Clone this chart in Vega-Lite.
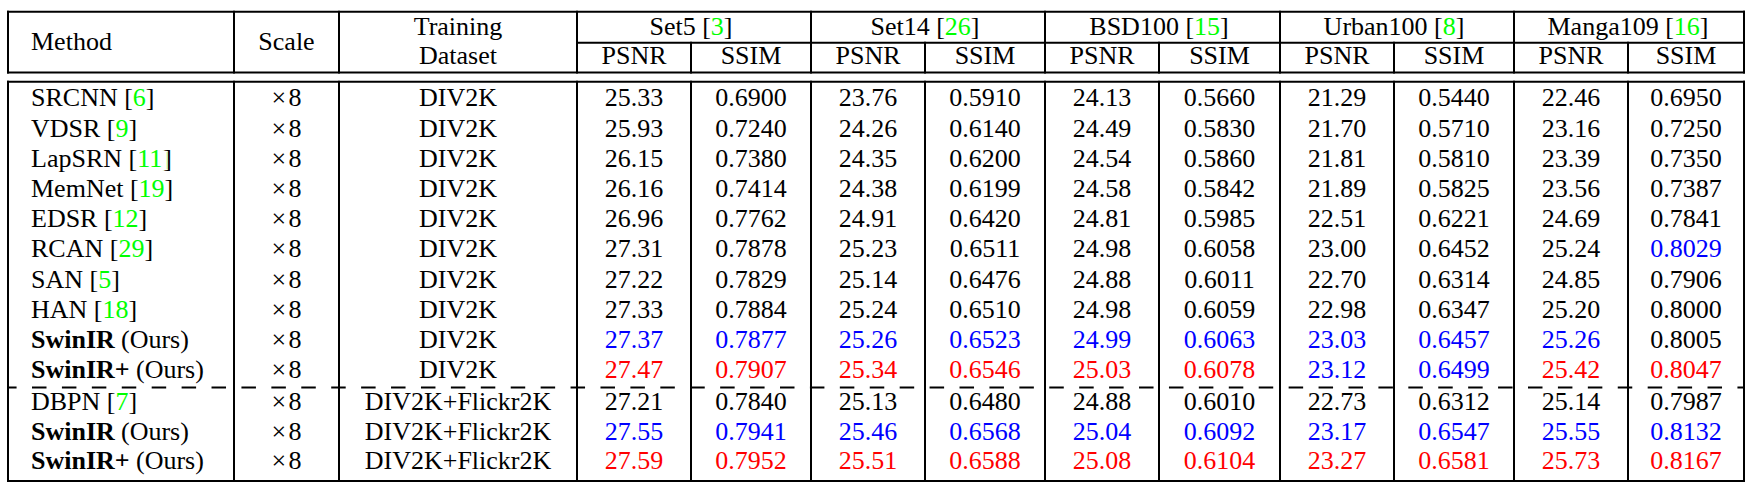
{
"$schema": "https://vega.github.io/schema/vega-lite/v6.json",
"width": 1756, "height": 490, "padding": 0, "autosize": {"type": "none"},
"background": "white",
"config": {"view": {"stroke": null}},
"datasets": {
"hlines": [
{"row": -1.5, "col": -0.5, "col2": 12.5},
{"row": -0.75, "col": 2.5, "col2": 12.5},
{"row": 0.25, "col": -0.5, "col2": 12.5},
{"row": 0.5, "col": -0.5, "col2": 12.5},
{"row": 13.5, "col": -0.5, "col2": 12.5}
],
"dash": [{"row": 10.5, "col": -0.5, "col2": 12.5}],
"vlines": [
{"col": -0.5, "row": -1.5, "row2": 0.25},
{"col": 0.5, "row": -1.5, "row2": 0.25},
{"col": 1.5, "row": -1.5, "row2": 0.25},
{"col": 2.5, "row": -1.5, "row2": 0.25},
{"col": 4.5, "row": -1.5, "row2": 0.25},
{"col": 6.5, "row": -1.5, "row2": 0.25},
{"col": 8.5, "row": -1.5, "row2": 0.25},
{"col": 10.5, "row": -1.5, "row2": 0.25},
{"col": 12.5, "row": -1.5, "row2": 0.25},
{"col": 3.5, "row": -0.75, "row2": 0.25},
{"col": 5.5, "row": -0.75, "row2": 0.25},
{"col": 7.5, "row": -0.75, "row2": 0.25},
{"col": 9.5, "row": -0.75, "row2": 0.25},
{"col": 11.5, "row": -0.75, "row2": 0.25},
{"col": -0.5, "row": 0.5, "row2": 13.5},
{"col": 0.5, "row": 0.5, "row2": 13.5},
{"col": 1.5, "row": 0.5, "row2": 13.5},
{"col": 2.5, "row": 0.5, "row2": 13.5},
{"col": 3.5, "row": 0.5, "row2": 13.5},
{"col": 4.5, "row": 0.5, "row2": 13.5},
{"col": 5.5, "row": 0.5, "row2": 13.5},
{"col": 6.5, "row": 0.5, "row2": 13.5},
{"col": 7.5, "row": 0.5, "row2": 13.5},
{"col": 8.5, "row": 0.5, "row2": 13.5},
{"col": 9.5, "row": 0.5, "row2": 13.5},
{"col": 10.5, "row": 0.5, "row2": 13.5},
{"col": 11.5, "row": 0.5, "row2": 13.5},
{"col": 12.5, "row": 0.5, "row2": 13.5}
],
"heads": [
{"col": 1, "row": -0.5, "name": "Scale"},
{"col": 2, "row": -1, "name": "Training"},
{"col": 2, "row": 0, "name": "Dataset"},
{"col": 3.5, "row": -1, "name": "Set5", "cite": "3"},
{"col": 5.5, "row": -1, "name": "Set14", "cite": "26"},
{"col": 7.5, "row": -1, "name": "BSD100", "cite": "15"},
{"col": 9.5, "row": -1, "name": "Urban100", "cite": "8"},
{"col": 11.5, "row": -1, "name": "Manga109", "cite": "16"},
{"col": 3, "row": 0, "name": "PSNR"}, {"col": 4, "row": 0, "name": "SSIM"},
{"col": 5, "row": 0, "name": "PSNR"}, {"col": 6, "row": 0, "name": "SSIM"},
{"col": 7, "row": 0, "name": "PSNR"}, {"col": 8, "row": 0, "name": "SSIM"},
{"col": 9, "row": 0, "name": "PSNR"}, {"col": 10, "row": 0, "name": "SSIM"},
{"col": 11, "row": 0, "name": "PSNR"}, {"col": 12, "row": 0, "name": "SSIM"}
],
"rows": [
{"row": 1, "name": "SRCNN", "cite": "6", "bold": false, "scale": "×\u200a8", "train": "DIV2K"},
{"row": 2, "name": "VDSR", "cite": "9", "bold": false, "scale": "×\u200a8", "train": "DIV2K"},
{"row": 3, "name": "LapSRN", "cite": "11", "bold": false, "scale": "×\u200a8", "train": "DIV2K"},
{"row": 4, "name": "MemNet", "cite": "19", "bold": false, "scale": "×\u200a8", "train": "DIV2K"},
{"row": 5, "name": "EDSR", "cite": "12", "bold": false, "scale": "×\u200a8", "train": "DIV2K"},
{"row": 6, "name": "RCAN", "cite": "29", "bold": false, "scale": "×\u200a8", "train": "DIV2K"},
{"row": 7, "name": "SAN", "cite": "5", "bold": false, "scale": "×\u200a8", "train": "DIV2K"},
{"row": 8, "name": "HAN", "cite": "18", "bold": false, "scale": "×\u200a8", "train": "DIV2K"},
{"row": 9, "name": "SwinIR", "note": "(Ours)", "bold": true, "scale": "×\u200a8", "train": "DIV2K"},
{"row": 10, "name": "SwinIR+", "note": "(Ours)", "bold": true, "scale": "×\u200a8", "train": "DIV2K"},
{"row": 11, "name": "DBPN", "cite": "7", "bold": false, "scale": "×\u200a8", "train": "DIV2K+Flickr2K"},
{"row": 12, "name": "SwinIR", "note": "(Ours)", "bold": true, "scale": "×\u200a8", "train": "DIV2K+Flickr2K"},
{"row": 13, "name": "SwinIR+", "note": "(Ours)", "bold": true, "scale": "×\u200a8", "train": "DIV2K+Flickr2K"}
],
"cells": [
{"row":1,"col":3,"v":"25.33","k":0},{"row":1,"col":4,"v":"0.6900","k":0},{"row":1,"col":5,"v":"23.76","k":0},{"row":1,"col":6,"v":"0.5910","k":0},{"row":1,"col":7,"v":"24.13","k":0},{"row":1,"col":8,"v":"0.5660","k":0},{"row":1,"col":9,"v":"21.29","k":0},{"row":1,"col":10,"v":"0.5440","k":0},{"row":1,"col":11,"v":"22.46","k":0},{"row":1,"col":12,"v":"0.6950","k":0},
{"row":2,"col":3,"v":"25.93","k":0},{"row":2,"col":4,"v":"0.7240","k":0},{"row":2,"col":5,"v":"24.26","k":0},{"row":2,"col":6,"v":"0.6140","k":0},{"row":2,"col":7,"v":"24.49","k":0},{"row":2,"col":8,"v":"0.5830","k":0},{"row":2,"col":9,"v":"21.70","k":0},{"row":2,"col":10,"v":"0.5710","k":0},{"row":2,"col":11,"v":"23.16","k":0},{"row":2,"col":12,"v":"0.7250","k":0},
{"row":3,"col":3,"v":"26.15","k":0},{"row":3,"col":4,"v":"0.7380","k":0},{"row":3,"col":5,"v":"24.35","k":0},{"row":3,"col":6,"v":"0.6200","k":0},{"row":3,"col":7,"v":"24.54","k":0},{"row":3,"col":8,"v":"0.5860","k":0},{"row":3,"col":9,"v":"21.81","k":0},{"row":3,"col":10,"v":"0.5810","k":0},{"row":3,"col":11,"v":"23.39","k":0},{"row":3,"col":12,"v":"0.7350","k":0},
{"row":4,"col":3,"v":"26.16","k":0},{"row":4,"col":4,"v":"0.7414","k":0},{"row":4,"col":5,"v":"24.38","k":0},{"row":4,"col":6,"v":"0.6199","k":0},{"row":4,"col":7,"v":"24.58","k":0},{"row":4,"col":8,"v":"0.5842","k":0},{"row":4,"col":9,"v":"21.89","k":0},{"row":4,"col":10,"v":"0.5825","k":0},{"row":4,"col":11,"v":"23.56","k":0},{"row":4,"col":12,"v":"0.7387","k":0},
{"row":5,"col":3,"v":"26.96","k":0},{"row":5,"col":4,"v":"0.7762","k":0},{"row":5,"col":5,"v":"24.91","k":0},{"row":5,"col":6,"v":"0.6420","k":0},{"row":5,"col":7,"v":"24.81","k":0},{"row":5,"col":8,"v":"0.5985","k":0},{"row":5,"col":9,"v":"22.51","k":0},{"row":5,"col":10,"v":"0.6221","k":0},{"row":5,"col":11,"v":"24.69","k":0},{"row":5,"col":12,"v":"0.7841","k":0},
{"row":6,"col":3,"v":"27.31","k":0},{"row":6,"col":4,"v":"0.7878","k":0},{"row":6,"col":5,"v":"25.23","k":0},{"row":6,"col":6,"v":"0.6511","k":0},{"row":6,"col":7,"v":"24.98","k":0},{"row":6,"col":8,"v":"0.6058","k":0},{"row":6,"col":9,"v":"23.00","k":0},{"row":6,"col":10,"v":"0.6452","k":0},{"row":6,"col":11,"v":"25.24","k":0},{"row":6,"col":12,"v":"0.8029","k":2},
{"row":7,"col":3,"v":"27.22","k":0},{"row":7,"col":4,"v":"0.7829","k":0},{"row":7,"col":5,"v":"25.14","k":0},{"row":7,"col":6,"v":"0.6476","k":0},{"row":7,"col":7,"v":"24.88","k":0},{"row":7,"col":8,"v":"0.6011","k":0},{"row":7,"col":9,"v":"22.70","k":0},{"row":7,"col":10,"v":"0.6314","k":0},{"row":7,"col":11,"v":"24.85","k":0},{"row":7,"col":12,"v":"0.7906","k":0},
{"row":8,"col":3,"v":"27.33","k":0},{"row":8,"col":4,"v":"0.7884","k":0},{"row":8,"col":5,"v":"25.24","k":0},{"row":8,"col":6,"v":"0.6510","k":0},{"row":8,"col":7,"v":"24.98","k":0},{"row":8,"col":8,"v":"0.6059","k":0},{"row":8,"col":9,"v":"22.98","k":0},{"row":8,"col":10,"v":"0.6347","k":0},{"row":8,"col":11,"v":"25.20","k":0},{"row":8,"col":12,"v":"0.8000","k":0},
{"row":9,"col":3,"v":"27.37","k":2},{"row":9,"col":4,"v":"0.7877","k":2},{"row":9,"col":5,"v":"25.26","k":2},{"row":9,"col":6,"v":"0.6523","k":2},{"row":9,"col":7,"v":"24.99","k":2},{"row":9,"col":8,"v":"0.6063","k":2},{"row":9,"col":9,"v":"23.03","k":2},{"row":9,"col":10,"v":"0.6457","k":2},{"row":9,"col":11,"v":"25.26","k":2},{"row":9,"col":12,"v":"0.8005","k":0},
{"row":10,"col":3,"v":"27.47","k":1},{"row":10,"col":4,"v":"0.7907","k":1},{"row":10,"col":5,"v":"25.34","k":1},{"row":10,"col":6,"v":"0.6546","k":1},{"row":10,"col":7,"v":"25.03","k":1},{"row":10,"col":8,"v":"0.6078","k":1},{"row":10,"col":9,"v":"23.12","k":2},{"row":10,"col":10,"v":"0.6499","k":2},{"row":10,"col":11,"v":"25.42","k":1},{"row":10,"col":12,"v":"0.8047","k":1},
{"row":11,"col":3,"v":"27.21","k":0},{"row":11,"col":4,"v":"0.7840","k":0},{"row":11,"col":5,"v":"25.13","k":0},{"row":11,"col":6,"v":"0.6480","k":0},{"row":11,"col":7,"v":"24.88","k":0},{"row":11,"col":8,"v":"0.6010","k":0},{"row":11,"col":9,"v":"22.73","k":0},{"row":11,"col":10,"v":"0.6312","k":0},{"row":11,"col":11,"v":"25.14","k":0},{"row":11,"col":12,"v":"0.7987","k":0},
{"row":12,"col":3,"v":"27.55","k":2},{"row":12,"col":4,"v":"0.7941","k":2},{"row":12,"col":5,"v":"25.46","k":2},{"row":12,"col":6,"v":"0.6568","k":2},{"row":12,"col":7,"v":"25.04","k":2},{"row":12,"col":8,"v":"0.6092","k":2},{"row":12,"col":9,"v":"23.17","k":2},{"row":12,"col":10,"v":"0.6547","k":2},{"row":12,"col":11,"v":"25.55","k":2},{"row":12,"col":12,"v":"0.8132","k":2},
{"row":13,"col":3,"v":"27.59","k":1},{"row":13,"col":4,"v":"0.7952","k":1},{"row":13,"col":5,"v":"25.51","k":1},{"row":13,"col":6,"v":"0.6588","k":1},{"row":13,"col":7,"v":"25.08","k":1},{"row":13,"col":8,"v":"0.6104","k":1},{"row":13,"col":9,"v":"23.27","k":1},{"row":13,"col":10,"v":"0.6581","k":1},{"row":13,"col":11,"v":"25.73","k":1},{"row":13,"col":12,"v":"0.8167","k":1}
]
},
"encoding": {
"x": {"field": "col", "type": "quantitative", "axis": null,
  "scale": {"type": "linear", "nice": false, "zero": false,
    "domain": [-0.5,0,0.5,1,1.5,2,2.5,3,3.5,4,4.5,5,5.5,6,6.5,7,7.5,8,8.5,9,9.5,10,10.5,11,11.5,12,12.5],
    "range": [8,31,234,286.5,339,458,577,634,691,751,811,868,925,985,1045,1102,1159,1219.5,1280,1337,1394,1454,1514,1571,1628,1686,1744]}},
"y": {"field": "row", "type": "quantitative", "axis": null,
  "scale": {"type": "linear", "nice": false, "zero": false,
    "domain": [-1.5,-1,-0.75,-0.5,0,0.25,0.5,1,10,10.5,11,13,13.5],
    "range": [11.7,35,42.7,49.5,64,72.5,81.8,106.3,378.3,387.5,410,469,481]}}
},
"layer": [
{"data": {"name": "hlines"}, "mark": {"type": "rule", "color": "#000000", "strokeWidth": 2, "strokeCap": "square"},
 "encoding": {"x2": {"field": "col2"}}},
{"data": {"name": "dash"}, "mark": {"type": "rule", "color": "#000000", "strokeWidth": 2, "strokeDash": [14.5, 15.42], "strokeDashOffset": 5.92},
 "encoding": {"x2": {"field": "col2"}}},
{"data": {"name": "vlines"}, "mark": {"type": "rule", "color": "#000000", "strokeWidth": 2, "strokeCap": "square"},
 "encoding": {"y2": {"field": "row2"}}},
{"data": {"values": [{"col": 0, "row": -0.5, "name": "Method"}]},
 "mark": {"type": "text", "font": "Liberation Serif", "fontSize": 26, "align": "left", "baseline": "alphabetic", "color": "#000000"},
 "encoding": {"text": {"field": "name"}}},
{"data": {"name": "heads"},
 "transform": [{"filter": "isValid(datum.cite)"}, {"calculate": "datum.name + ' [' + datum.cite + ']'", "as": "full"}],
 "mark": {"type": "text", "font": "Liberation Serif", "fontSize": 26, "align": "center", "baseline": "alphabetic", "color": "#00ff00"},
 "encoding": {"text": {"field": "full"}}},
{"data": {"name": "heads"},
 "transform": [{"filter": "isValid(datum.cite)"}, {"calculate": "datum.name + ' [' + (length(datum.cite) > 1 ? '\u2002\u2002' : '\u2002') + ']'", "as": "mask"}],
 "mark": {"type": "text", "font": "Liberation Serif", "fontSize": 26, "align": "center", "baseline": "alphabetic", "color": "#ffffff", "stroke": "#ffffff", "strokeWidth": 1.6},
 "encoding": {"text": {"field": "mask"}}},
{"data": {"name": "heads"},
 "transform": [{"calculate": "isValid(datum.cite) ? datum.name + ' [' + (length(datum.cite) > 1 ? '\u2002\u2002' : '\u2002') + ']' : datum.name", "as": "mask"}],
 "mark": {"type": "text", "font": "Liberation Serif", "fontSize": 26, "align": "center", "baseline": "alphabetic", "color": "#000000"},
 "encoding": {"text": {"field": "mask"}}},
{"data": {"name": "rows"},
 "transform": [{"filter": "isValid(datum.cite)"}, {"calculate": "datum.name + ' [' + datum.cite + ']'", "as": "full"}, {"calculate": "0", "as": "col"}],
 "mark": {"type": "text", "font": "Liberation Serif", "fontSize": 26, "align": "left", "baseline": "alphabetic", "color": "#00ff00"},
 "encoding": {"text": {"field": "full"}}},
{"data": {"name": "rows"},
 "transform": [{"filter": "isValid(datum.cite)"}, {"calculate": "datum.name + ' [' + (length(datum.cite) > 1 ? '\u2002\u2002' : '\u2002') + ']'", "as": "mask"}, {"calculate": "0", "as": "col"}],
 "mark": {"type": "text", "font": "Liberation Serif", "fontSize": 26, "align": "left", "baseline": "alphabetic", "color": "#ffffff", "stroke": "#ffffff", "strokeWidth": 1.6},
 "encoding": {"text": {"field": "mask"}}},
{"data": {"name": "rows"},
 "transform": [{"filter": "isValid(datum.cite)"}, {"calculate": "datum.name + ' [' + (length(datum.cite) > 1 ? '\u2002\u2002' : '\u2002') + ']'", "as": "mask"}, {"calculate": "0", "as": "col"}],
 "mark": {"type": "text", "font": "Liberation Serif", "fontSize": 26, "align": "left", "baseline": "alphabetic", "color": "#000000"},
 "encoding": {"text": {"field": "mask"}}},
{"data": {"name": "rows"},
 "transform": [{"filter": "datum.bold"}, {"calculate": "0", "as": "col"}],
 "mark": {"type": "text", "font": "Liberation Serif", "fontSize": 26, "fontWeight": "bold", "align": "left", "baseline": "alphabetic", "color": "#000000"},
 "encoding": {"text": {"field": "name"}}},
{"data": {"name": "rows"},
 "transform": [{"filter": "datum.name == 'SwinIR'"}, {"calculate": "0", "as": "col"}],
 "mark": {"type": "text", "font": "Liberation Serif", "fontSize": 26, "align": "left", "baseline": "alphabetic", "color": "#000000", "dx": 90},
 "encoding": {"text": {"field": "note"}}},
{"data": {"name": "rows"},
 "transform": [{"filter": "datum.name == 'SwinIR+'"}, {"calculate": "0", "as": "col"}],
 "mark": {"type": "text", "font": "Liberation Serif", "fontSize": 26, "align": "left", "baseline": "alphabetic", "color": "#000000", "dx": 105},
 "encoding": {"text": {"field": "note"}}},
{"data": {"name": "rows"},
 "transform": [{"calculate": "1", "as": "col"}],
 "mark": {"type": "text", "font": "Liberation Serif", "fontSize": 26, "align": "center", "baseline": "alphabetic", "color": "#000000"},
 "encoding": {"text": {"field": "scale"}}},
{"data": {"name": "rows"},
 "transform": [{"calculate": "2", "as": "col"}],
 "mark": {"type": "text", "font": "Liberation Serif", "fontSize": 26, "align": "center", "baseline": "alphabetic", "color": "#000000"},
 "encoding": {"text": {"field": "train"}}},
{"data": {"name": "cells"},
 "mark": {"type": "text", "font": "Liberation Serif", "fontSize": 26, "align": "center", "baseline": "alphabetic"},
 "encoding": {"text": {"field": "v"},
   "color": {"field": "k", "type": "nominal", "legend": null, "scale": {"domain": [0, 1, 2], "range": ["#000000", "#ff0000", "#0000ff"]}}}}
]
}
